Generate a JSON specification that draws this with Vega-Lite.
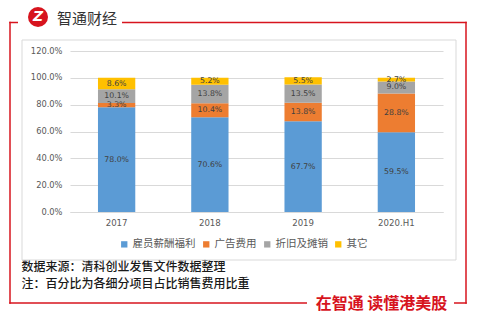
{
  "$schema": "https://vega.github.io/schema/vega-lite/v6.json",
  "width": 373,
  "height": 161,
  "autosize": {"type": "none"},
  "padding": {"left": 70, "top": 51, "right": 36, "bottom": 111},
  "background": "white",
  "config": {"view": {"stroke": null}, "font": "Noto Sans CJK SC", "axis": {"labelOverlap": false}, "axisY": {"labelOverlap": false}},
  "title": {"text": "智通财经", "anchor": "start", "frame": "group", "dx": -13, "offset": -20, "fontSize": 15, "fontWeight": "normal", "color": "#333333", "font": "Noto Sans CJK SC"},
  "data": {"values": [
    {"year": "2017", "item": "雇员薪酬福利", "v": 78.0, "k": 1},
    {"year": "2017", "item": "广告费用", "v": 3.3, "k": 2},
    {"year": "2017", "item": "折旧及摊销", "v": 10.1, "k": 3},
    {"year": "2017", "item": "其它", "v": 8.6, "k": 4},
    {"year": "2018", "item": "雇员薪酬福利", "v": 70.6, "k": 1},
    {"year": "2018", "item": "广告费用", "v": 10.4, "k": 2},
    {"year": "2018", "item": "折旧及摊销", "v": 13.8, "k": 3},
    {"year": "2018", "item": "其它", "v": 5.2, "k": 4},
    {"year": "2019", "item": "雇员薪酬福利", "v": 67.7, "k": 1},
    {"year": "2019", "item": "广告费用", "v": 13.8, "k": 2},
    {"year": "2019", "item": "折旧及摊销", "v": 13.5, "k": 3},
    {"year": "2019", "item": "其它", "v": 5.5, "k": 4},
    {"year": "2020.H1", "item": "雇员薪酬福利", "v": 59.5, "k": 1},
    {"year": "2020.H1", "item": "广告费用", "v": 28.8, "k": 2},
    {"year": "2020.H1", "item": "折旧及摊销", "v": 9.0, "k": 3},
    {"year": "2020.H1", "item": "其它", "v": 2.7, "k": 4}
  ]},
  "layer": [
    {"data": {"values": [{}]}, "mark": {"type": "rect", "x": -48, "x2": 386, "y": -11, "y2": 209, "fill": null, "stroke": "#D9D9D9", "strokeWidth": 1}, "encoding": {}},
    {"data": {"values": [{}]}, "mark": {"type": "rect", "x": -60.75, "x2": -52, "y": -29.25, "y2": -27.75, "fill": "#D7141E"}, "encoding": {}},
    {"data": {"values": [{}]}, "mark": {"type": "rect", "x": 52, "x2": 396.75, "y": -29.25, "y2": -27.75, "fill": "#D7141E"}, "encoding": {}},
    {"data": {"values": [{}]}, "mark": {"type": "rect", "x": -60.75, "x2": -59.25, "y": -29.25, "y2": 252.75, "fill": "#D7141E"}, "encoding": {}},
    {"data": {"values": [{}]}, "mark": {"type": "rect", "x": 395.25, "x2": 396.75, "y": -29.25, "y2": 252.75, "fill": "#D7141E"}, "encoding": {}},
    {"data": {"values": [{}]}, "mark": {"type": "rect", "x": -60.75, "x2": 237, "y": 251.25, "y2": 252.75, "fill": "#D7141E"}, "encoding": {}},
    {"data": {"values": [{}]}, "mark": {"type": "rect", "x": 384, "x2": 396.75, "y": 251.25, "y2": 252.75, "fill": "#D7141E"}, "encoding": {}},
    {"data": {"values": [{}]}, "mark": {"type": "point", "x": -32, "y": -34, "size": 400, "shape": "circle", "filled": true, "color": "#D7141E", "opacity": 1}, "encoding": {}},
    {"data": {"values": [{"t": "Z"}]}, "mark": {"type": "text", "x": -32, "y": -34, "align": "center", "baseline": "middle", "fontSize": 14, "fontWeight": "bold", "fontStyle": "italic", "color": "white", "font": "DejaVu Sans"}, "encoding": {"text": {"field": "t"}}},
    {
      "mark": {"type": "bar"},
      "encoding": {
        "x": {"field": "year", "type": "nominal", "sort": null,
          "scale": {"paddingInner": 0.6, "paddingOuter": 0.3},
          "axis": {"labelAngle": 0, "labelFont": "DejaVu Sans", "labelFontSize": 8.6, "labelColor": "#595959", "labelPadding": 6, "ticks": false, "domain": true, "domainColor": "#D9D9D9",
            "title": ["数据来源：清科创业发售文件数据整理", "注：百分比为各细分项目占比销售费用比重"],
            "titleX": -49, "titleY": 49, "titleAnchor": "start", "titleAlign": "left", "titleBaseline": "top", "titleFontSize": 12, "titleFontWeight": 500, "titleColor": "#1a1a1a", "titleLineHeight": 17, "titleFont": "Noto Sans CJK SC"}},
        "y": {"field": "v", "type": "quantitative", "stack": "zero",
          "scale": {"domain": [0, 120], "nice": false},
          "axis": {"values": [0, 20, 40, 60, 80, 100, 120], "labelOverlap": false, "labelExpr": "format(datum.value, '.1f') + '%'", "gridColor": "#D9D9D9", "domain": false, "ticks": false, "labelPadding": 8, "labelFont": "DejaVu Sans", "labelFontSize": 8.3, "labelColor": "#595959",
            "title": "在智通  读懂港美股", "titleAngle": 0, "titleX": 311, "titleY": 252, "titleAlign": "center", "titleBaseline": "middle", "titleFontSize": 16, "titleFontWeight": "bold", "titleColor": "#D7141E", "titleFont": "Noto Sans CJK SC"}},
        "color": {"field": "item", "type": "nominal",
          "scale": {"domain": ["雇员薪酬福利", "广告费用", "折旧及摊销", "其它"], "range": ["#5B9BD5", "#ED7D31", "#A5A5A5", "#FFC000"]},
          "legend": {"orient": "none", "legendX": 49, "legendY": 188, "direction": "horizontal", "title": null, "symbolType": "square", "symbolSize": 40, "symbolStrokeWidth": 0, "labelFontSize": 10.5, "labelColor": "#595959", "columnPadding": 5, "labelOffset": 3, "labelFont": "Noto Sans CJK SC"}},
        "order": {"field": "k", "type": "quantitative"}
      }
    },
    {
      "transform": [
        {"stack": "v", "groupby": ["year"], "sort": [{"field": "k"}], "as": ["y0", "y1"]},
        {"calculate": "(datum.y0 + datum.y1) / 2", "as": "ym"},
        {"calculate": "format(datum.v, '.1f') + '%'", "as": "lbl"}
      ],
      "mark": {"type": "text", "font": "DejaVu Sans", "fontSize": 7.8, "color": "#404040", "baseline": "middle"},
      "encoding": {
        "x": {"field": "year", "type": "nominal", "sort": null},
        "y": {"field": "ym", "type": "quantitative",
          "axis": {"values": [0, 20, 40, 60, 80, 100, 120], "labelOverlap": false, "labelExpr": "format(datum.value, '.1f') + '%'", "gridColor": "#D9D9D9", "domain": false, "ticks": false, "labelPadding": 8, "labelFont": "DejaVu Sans", "labelFontSize": 8.3, "labelColor": "#595959",
            "title": "在智通  读懂港美股", "titleAngle": 0, "titleX": 311, "titleY": 252, "titleAlign": "center", "titleBaseline": "middle", "titleFontSize": 16, "titleFontWeight": "bold", "titleColor": "#D7141E", "titleFont": "Noto Sans CJK SC"}},
        "text": {"field": "lbl"}
      }
    }
  ]
}
